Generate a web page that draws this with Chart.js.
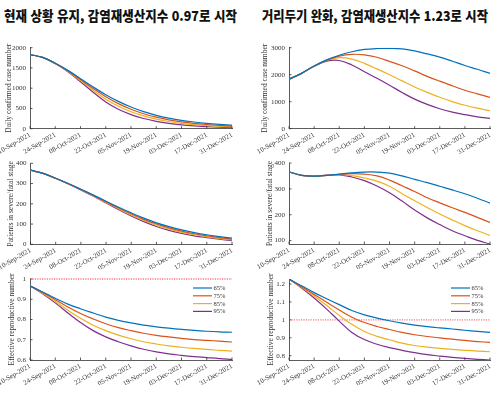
<!DOCTYPE html>
<html lang="ko">
<head>
<meta charset="UTF-8">
<title>감염재생산지수 시나리오</title>
<script src="https://cdn.jsdelivr.net/npm/chart.js"></script>
<style>
  body { margin: 0; background: #fff; }
  #wrap { position: relative; width: 500px; height: 393px; overflow: hidden; }
  #wrap canvas { position: absolute; left: 0; top: 0; }
  .title { position: absolute; top: 9px; font-family: 'Noto Sans CJK KR', sans-serif; font-weight: 900;
           font-size: 13.5px; line-height: 13.5px; white-space: nowrap; transform-origin: 0 0; color: #111; }
</style>
</head>
<body>
<div id="wrap">
  <div class="title" id="t1" data-left="4" data-width="233">현재 상황 유지, 감염재생산지수 0.97로 시작</div>
  <div class="title" id="t2" data-left="262" data-width="226">거리두기 완화, 감염재생산지수 1.23로 시작</div>
  <canvas id="c1" width="500" height="393"></canvas>
  <canvas id="c2" width="500" height="393"></canvas>
  <canvas id="c3" width="500" height="393"></canvas>
  <canvas id="c4" width="500" height="393"></canvas>
  <canvas id="c5" width="500" height="393"></canvas>
  <canvas id="c6" width="500" height="393"></canvas>
</div>
<script>
// days since 10-Sep-2021, one sample a week
const days = [0, 7, 14, 21, 28, 35, 42, 49, 56, 63, 70, 77, 84, 91, 98, 105, 112];
const xTickDays = [0, 14, 28, 42, 56, 70, 84, 98, 112];
const xTickLabels = ['10-Sep-2021', '24-Sep-2021', '08-Oct-2021', '22-Oct-2021', '05-Nov-2021',
                     '19-Nov-2021', '03-Dec-2021', '17-Dec-2021', '31-Dec-2021'];
const seriesNames = ['65%', '75%', '85%', '95%'];
const seriesColors = ['#0072BD', '#D95319', '#EDB120', '#7E2F8E'];

// left column: current situation kept, Rt starts at 0.97
const casesStay65 = [1830, 1760, 1615, 1440, 1235, 1030, 840, 675, 535, 420, 330, 260, 205, 165, 132, 108, 90];
const casesStay75 = [1830, 1760, 1613, 1430, 1212, 995, 790, 620, 480, 370, 285, 220, 170, 132, 104, 82, 65];
const casesStay85 = [1830, 1760, 1611, 1420, 1188, 950, 730, 555, 420, 315, 238, 178, 133, 100, 75, 57, 43];
const casesStay95 = [1830, 1760, 1608, 1405, 1160, 900, 660, 480, 348, 252, 183, 132, 95, 68, 50, 36, 25];

const severeStay65 = [366, 350, 326, 300, 272, 243, 213, 183, 155, 129, 106, 87, 71, 58, 47, 38, 30];
const severeStay75 = [366, 350, 326, 299, 271, 241, 210, 179, 150, 123, 100, 81, 65, 52, 42, 33, 26];
const severeStay85 = [366, 350, 325, 299, 270, 239, 207, 175, 145, 118, 94, 75, 59, 47, 37, 29, 22];
const severeStay95 = [366, 350, 325, 298, 268, 237, 204, 171, 140, 112, 88, 69, 54, 42, 33, 25, 18];

const rtStay65 = [0.966, 0.936, 0.905, 0.876, 0.853, 0.832, 0.812, 0.796, 0.783, 0.772, 0.764, 0.757, 0.751, 0.746, 0.742, 0.739, 0.737];
const rtStay75 = [0.966, 0.933, 0.898, 0.862, 0.830, 0.803, 0.779, 0.760, 0.745, 0.732, 0.722, 0.714, 0.707, 0.701, 0.697, 0.693, 0.689];
const rtStay85 = [0.966, 0.930, 0.890, 0.846, 0.806, 0.772, 0.745, 0.723, 0.705, 0.690, 0.679, 0.670, 0.663, 0.657, 0.652, 0.648, 0.644];
const rtStay95 = [0.966, 0.927, 0.882, 0.832, 0.785, 0.745, 0.714, 0.690, 0.670, 0.653, 0.640, 0.630, 0.623, 0.617, 0.612, 0.607, 0.603];

// right column: distancing relaxed, Rt starts at 1.23
const casesRelax65 = [1830, 2050, 2320, 2550, 2720, 2850, 2935, 2970, 2975, 2955, 2880, 2770, 2650, 2500, 2340, 2200, 2050];
const casesRelax75 = [1830, 2050, 2318, 2540, 2690, 2755, 2735, 2645, 2495, 2330, 2140, 1940, 1760, 1590, 1425, 1290, 1160];
const casesRelax85 = [1830, 2050, 2315, 2525, 2630, 2580, 2420, 2215, 2000, 1770, 1545, 1345, 1165, 1005, 870, 760, 667];
const casesRelax95 = [1830, 2050, 2310, 2500, 2525, 2360, 2110, 1865, 1610, 1340, 1095, 900, 740, 615, 520, 440, 383];

const severeRelax65 = [366, 352, 349, 352, 357, 362, 365, 365, 361, 350, 337, 324, 310, 296, 281, 264, 245];
const severeRelax75 = [366, 352, 349, 352, 356, 359, 357, 350, 334, 312, 290, 266, 246, 227, 209, 190, 170];
const severeRelax85 = [366, 352, 349, 352, 355, 351, 342, 330, 310, 281, 254, 228, 203, 180, 158, 138, 120];
const severeRelax95 = [366, 352, 349, 353, 354, 346, 332, 311, 285, 253, 218, 188, 162, 138, 119, 101, 87];

const rtRelax65 = [1.228, 1.190, 1.152, 1.118, 1.085, 1.052, 1.028, 1.010, 0.995, 0.982, 0.971, 0.962, 0.955, 0.949, 0.942, 0.936, 0.930];
const rtRelax75 = [1.228, 1.185, 1.142, 1.098, 1.055, 1.015, 0.985, 0.963, 0.946, 0.930, 0.917, 0.907, 0.899, 0.892, 0.885, 0.879, 0.874];
const rtRelax85 = [1.228, 1.182, 1.133, 1.080, 1.025, 0.975, 0.935, 0.908, 0.889, 0.870, 0.857, 0.848, 0.841, 0.835, 0.830, 0.826, 0.822];
const rtRelax95 = [1.228, 1.178, 1.122, 1.060, 0.993, 0.930, 0.890, 0.864, 0.845, 0.830, 0.817, 0.806, 0.798, 0.791, 0.785, 0.780, 0.776];

const refLineRt = [1, 1];

const yTicksCasesStay = [0, 500, 1000, 1500, 2000];
const yTicksCasesRelax = [0, 1000, 2000, 3000];
const yTicksSevereStay = [0, 100, 200, 300, 400];
const yTicksSevereRelax = [100, 200, 300, 400];
const yTicksRtStay = [0.6, 0.7, 0.8, 0.9, 1];
const yTicksRtRelax = [0.8, 0.9, 1, 1.1, 1.2];

const axisColor = '#333';
const serif = 'Liberation Serif';

// inward tick marks, like the original figure
const tickMarks = {
  id: 'tickMarks',
  afterDraw(chart) {
    const ctx = chart.ctx, a = chart.chartArea;
    const xs = chart.scales.x, ys = chart.scales.y;
    ctx.save();
    ctx.strokeStyle = axisColor;
    ctx.lineWidth = 0.8;
    ctx.beginPath();
    xs.ticks.forEach(t => {
      const px = xs.getPixelForValue(t.value);
      ctx.moveTo(px, a.bottom); ctx.lineTo(px, a.bottom - 2.5);
    });
    ys.ticks.forEach(t => {
      const py = ys.getPixelForValue(t.value);
      ctx.moveTo(a.left, py); ctx.lineTo(a.left + 2.5, py);
    });
    ctx.stroke();
    ctx.restore();
  }
};

const seriesLegend = {
  id: 'seriesLegend',
  afterDraw(chart, args, opts) {
    if (!opts.display) return;
    const ctx = chart.ctx, a = chart.chartArea;
    ctx.save();
    ctx.font = '6.5px "' + serif + '"';
    ctx.textBaseline = 'middle';
    ctx.fillStyle = axisColor;
    chart.data.datasets.slice(0, seriesNames.length).forEach((ds, i) => {
      const y = a.top + 9 + i * 7.8;
      ctx.strokeStyle = ds.borderColor;
      ctx.lineWidth = 1.2;
      ctx.beginPath();
      ctx.moveTo(a.right - 39, y); ctx.lineTo(a.right - 20, y);
      ctx.stroke();
      ctx.fillText(ds.label, a.right - 18.5, y + 0.3);
    });
    ctx.restore();
  }
};

function makeChart(id, p) {
  const datasets = p.series.map((vals, i) => ({
    label: seriesNames[i],
    data: days.map((d, j) => ({x: d, y: vals[j]})),
    borderColor: seriesColors[i],
    borderWidth: 1.2,
    pointRadius: 0,
    tension: 0.4,
    fill: false
  }));
  if (p.ref) {
    datasets.push({
      label: 'Rt = 1',
      data: [{x: xTickDays[0], y: p.ref[0]}, {x: xTickDays[xTickDays.length - 1], y: p.ref[1]}],
      borderColor: 'rgba(255, 90, 100, 0.85)',
      borderDash: [1.2, 1.2],
      borderWidth: 1.4,
      pointRadius: 0,
      clip: 4
    });
  }
  const yW = 30, xH = 25, titleSize = 7.5;
  const padLeft = p.L - yW;
  new Chart(document.getElementById(id), {
    type: 'line',
    data: {datasets},
    plugins: [tickMarks, seriesLegend],
    options: {
      responsive: false,
      animation: false,
      layout: {
        autoPadding: false,
        padding: {left: padLeft, top: p.T, right: 500 - p.R, bottom: 393 - p.B - xH}
      },
      plugins: {
        legend: {display: false},
        tooltip: {enabled: false},
        seriesLegend: {display: !!p.legend}
      },
      scales: {
        x: {
          type: 'linear',
          min: xTickDays[0],
          max: xTickDays[xTickDays.length - 1],
          afterBuildTicks: s => { s.ticks = xTickDays.map(v => ({value: v})); },
          afterFit: s => { s.height = xH; s.paddingLeft = 0; s.paddingRight = 0; },
          grid: {display: false, drawTicks: false},
          border: {display: true, color: axisColor, width: 0.8},
          ticks: {
            autoSkip: false, minRotation: 30, maxRotation: 30, padding: 2,
            color: axisColor, font: {family: serif, size: 7},
            callback: v => xTickLabels[xTickDays.indexOf(v)]
          }
        },
        y: {
          type: 'linear',
          min: p.yMin,
          max: p.yMax,
          afterBuildTicks: s => { s.ticks = p.yTicks.map(v => ({value: v})); },
          afterFit: s => { s.width = yW; s.paddingTop = 0; s.paddingBottom = 0; },
          grid: {display: false, drawTicks: false},
          border: {display: true, color: axisColor, width: 0.8},
          ticks: {
            padding: 4, color: axisColor, font: {family: serif, size: 7},
            callback: v => String(+v.toFixed(2))
          },
          title: {
            display: true, text: p.yTitle, color: axisColor,
            font: {family: serif, size: titleSize, lineHeight: 1},
            padding: {top: p.yTitleX - padLeft - titleSize / 2, bottom: 0}
          }
        }
      }
    }
  });
}

makeChart('c1', {L: 30, R: 232, T: 47.7, B: 128.7, yMin: 0, yMax: 2000, yTicks: yTicksCasesStay,
  yTitle: 'Daily confirmed case number', yTitleX: 9,
  series: [casesStay65, casesStay75, casesStay85, casesStay95]});
makeChart('c2', {L: 289, R: 490, T: 47.7, B: 128.7, yMin: 0, yMax: 3000, yTicks: yTicksCasesRelax,
  yTitle: 'Daily confirmed case number', yTitleX: 265.5,
  series: [casesRelax65, casesRelax75, casesRelax85, casesRelax95]});
makeChart('c3', {L: 30.5, R: 232, T: 163.3, B: 244.3, yMin: 0, yMax: 400, yTicks: yTicksSevereStay,
  yTitle: 'Patients in severe/fatal stage', yTitleX: 11,
  series: [severeStay65, severeStay75, severeStay85, severeStay95]});
makeChart('c4', {L: 289, R: 490, T: 163, B: 244, yMin: 87, yMax: 400, yTicks: yTicksSevereRelax,
  yTitle: 'Patients in severe/fatal stage', yTitleX: 270.5,
  series: [severeRelax65, severeRelax75, severeRelax85, severeRelax95]});
makeChart('c5', {L: 30, R: 232, T: 279, B: 360, yMin: 0.6, yMax: 1, yTicks: yTicksRtStay,
  yTitle: 'Effective reproductive number', yTitleX: 12.5, legend: true, ref: refLineRt,
  series: [rtStay65, rtStay75, rtStay85, rtStay95]});
makeChart('c6', {L: 289, R: 490, T: 279, B: 360, yMin: 0.776, yMax: 1.228, yTicks: yTicksRtRelax,
  yTitle: 'Effective reproductive number', yTitleX: 271, legend: true, ref: refLineRt,
  series: [rtRelax65, rtRelax75, rtRelax85, rtRelax95]});

// squeeze the headings to the width they have in the figure
document.querySelectorAll('.title').forEach(el => {
  el.style.left = el.dataset.left + 'px';
  const w = el.getBoundingClientRect().width;
  el.style.transform = 'scaleX(' + (el.dataset.width / w).toFixed(3) + ')';
});
</script>
</body>
</html>
